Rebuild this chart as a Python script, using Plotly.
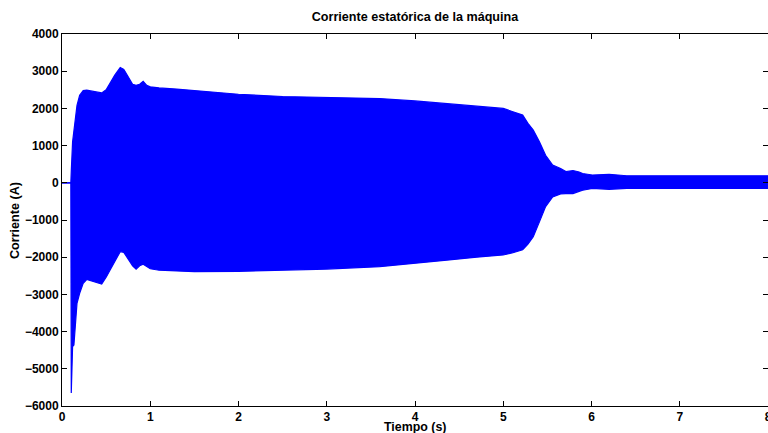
import plotly.graph_objects as go

# Envelope of the stator current
t_s = [0, 0.1, 0.105, 0.112, 0.12, 0.135, 0.155, 0.17, 0.2, 0.24, 0.28, 0.32, 0.38, 0.45, 0.5, 0.55,
       0.6, 0.66, 0.7, 0.73, 0.77, 0.8, 0.84, 0.88, 0.92, 0.96, 1.0, 1.1, 1.3, 1.5, 2.0, 2.5,
       3.0, 3.6, 4.0, 4.36, 4.7, 5.0, 5.11, 5.22, 5.28, 5.34, 5.41, 5.48, 5.56, 5.65, 5.71,
       5.79, 5.86, 5.9, 6.01, 6.2, 6.4, 7.0, 8.0]
upper_a = [0, 0, 300, 830, 1100, 1400, 1800, 2080, 2350, 2480, 2490, 2470, 2440, 2415, 2500, 2700,
           2900, 3100, 3050, 2930, 2750, 2650, 2620, 2650, 2730, 2620, 2580, 2550, 2520, 2480, 2380, 2320,
           2290, 2265, 2200, 2130, 2070, 2000, 1910, 1820, 1600, 1420, 1100, 740, 475, 385, 300,
           330, 290, 250, 210, 230, 190, 190, 190]
lower_a = [0, 0, -5650, -5000, -4400, -4360, -3690, -3240, -2970, -2700, -2600, -2630, -2680, -2720, -2540, -2330,
           -2120, -1850, -1870, -1980, -2150, -2230, -2320, -2230, -2190, -2260, -2310, -2350, -2380, -2390, -2380, -2360,
           -2320, -2255, -2170, -2080, -2000, -1940, -1880, -1800, -1650, -1450, -1050, -640, -380, -300, -290,
           -290, -230, -200, -150, -175, -150, -150, -150]

x_ticks = [0, 1, 2, 3, 4, 5, 6, 7, 8]
y_ticks = [-6000, -5000, -4000, -3000, -2000, -1000, 0, 1000, 2000, 3000, 4000]

blue = "#0000FF"
font_fam = "Liberation Sans, Arial, Helvetica, sans-serif"

fig = go.Figure()
fig.add_trace(go.Scatter(x=t_s, y=upper_a, mode="lines", line=dict(color=blue, width=1.2),
                         showlegend=False, hoverinfo="skip"))
fig.add_trace(go.Scatter(x=t_s, y=lower_a, mode="lines", line=dict(color=blue, width=1.2),
                         fill="tonexty", fillcolor=blue, showlegend=False, hoverinfo="skip"))

axis_common = dict(showline=True, linecolor="black", linewidth=1, mirror="ticks",
                   ticks="inside", ticklen=5, tickcolor="black", tickwidth=1,
                   showgrid=False, zeroline=False, automargin=False,
                   ticklabeloverflow="allow",
                   tickfont=dict(family=font_fam, size=12, color="black", weight="bold"))

fig.update_layout(
    width=768, height=433,
    margin=dict(l=62, r=0, t=34, b=27, autoexpand=False),
    paper_bgcolor="white", plot_bgcolor="white",
    title=dict(text="Corriente estatórica de la máquina", x=0.5, xref="paper",
               y=1 - 17 / 433, yref="container", yanchor="middle",
               font=dict(family=font_fam, size=12.6, color="black", weight="bold")),
    xaxis=dict(range=[0, 8], tickvals=x_ticks, ticktext=[str(v) for v in x_ticks], **axis_common),
    yaxis=dict(range=[-6000, 4000], tickvals=y_ticks,
               ticktext=[("\u2212" + str(-v)) if v < 0 else str(v) for v in y_ticks], **axis_common),
    annotations=[
        dict(text="Tiempo (s)", x=0.5, xref="paper", y=-0.057, yref="paper",
             xanchor="center", yanchor="middle", showarrow=False,
             font=dict(family=font_fam, size=12.4, color="black", weight="bold")),
        dict(text="Corriente (A)", x=-0.0666, xref="paper", y=0.5, yref="paper",
             xanchor="center", yanchor="middle", textangle=-90, showarrow=False,
             font=dict(family=font_fam, size=12.6, color="black", weight="bold")),
    ],
)

fig.write_html(
    "out.html",
    config={"displayModeBar": False},
    post_script="document.body.style.margin='0';document.body.style.overflow='hidden';",
)
